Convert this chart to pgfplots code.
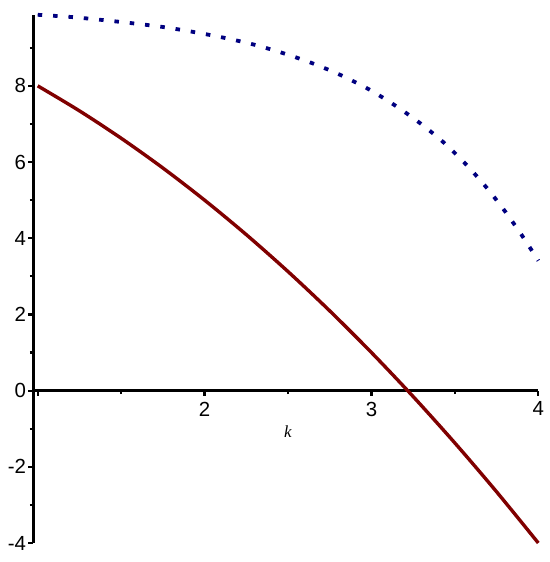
\documentclass[border=0pt]{standalone}
\usepackage{pgfplots}
\pgfplotsset{compat=1.18}
\usepackage{fontspec}
\setmainfont{Liberation Sans}
\newfontfamily\seriffont{Liberation Serif}
\definecolor{mred}{RGB}{128,0,0}
\definecolor{mblue}{RGB}{0,0,128}
\begin{document}
\begin{tikzpicture}
\begin{axis}[
  at={(33.3bp,19bp)}, anchor=south west,
  scale only axis, width=505bp, height=528bp,
  xmin=0.9736, xmax=4.0, ymin=-4, ymax=9.86,
  axis x line=middle, axis y line=left,
  axis line style={-, line width=2.4bp, black},
  xtick={1,2,3,4}, xticklabels={,2,3,4},
  minor xtick={1.5,2.5,3.5},
  ytick={-4,-2,0,2,4,6,8}, yticklabels={-4,-2,0,2,4,6,8},
  minor ytick={-3,-1,1,3,5,7,9},
  tick align=outside,
  major tick length=5bp, minor tick length=3.5bp,
  major tick style={line width=2.2bp, black},
  minor tick style={line width=2.2bp, black},
  ticklabel style={font=\fontsize{20.5}{20.5}\selectfont},
  xticklabel style={inner sep=0pt, anchor=north, yshift=-6bp},
  yticklabel style={inner sep=0pt, anchor=east, xshift=-2bp},
  xlabel={\seriffont\itshape k},
  xlabel style={at={(axis cs:2.5,0)}, anchor=center, yshift=-41bp, font=\fontsize{17}{17}\selectfont},
  clip=false,
]
\addplot[mred, line width=3.4bp, smooth] coordinates {
(1.00,8.000) (1.25,7.344) (1.50,6.625) (1.75,5.844) (2.00,5.000)
(2.25,4.094) (2.50,3.125) (2.75,2.094) (3.00,1.000) (3.25,-0.156)
(3.50,-1.375) (3.75,-2.656) (4.00,-4.000)
};
\addplot[mblue, line width=3.8bp, dash pattern=on 4.5bp off 10.9bp, smooth] coordinates {
(1.000,9.865) (1.198,9.808) (1.384,9.730) (1.567,9.643) (1.749,9.546)
(1.933,9.415) (2.113,9.265) (2.297,9.081) (2.473,8.855) (2.646,8.593)
(2.818,8.278) (2.984,7.911) (3.140,7.490) (3.290,7.026) (3.434,6.509)
(3.566,5.942) (3.688,5.339) (3.802,4.698) (3.908,4.034) (4.000,3.410)
};
\end{axis}
\pgfresetboundingbox
\path (0,0) rectangle (550bp,562bp);
\end{tikzpicture}
\end{document}
